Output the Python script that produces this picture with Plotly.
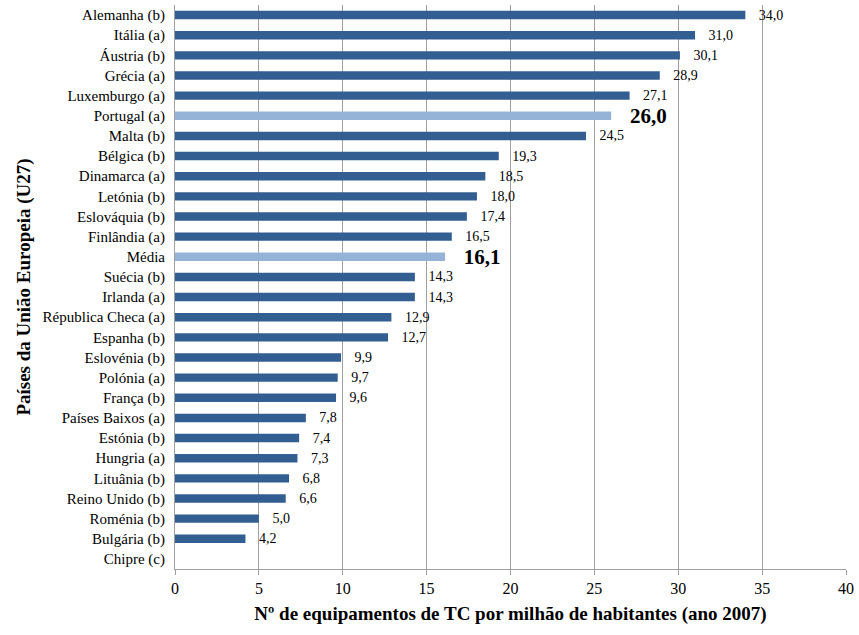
import plotly.graph_objects as go

countries = ["Alemanha (b)", "Itália (a)", "Áustria (b)", "Grécia (a)", "Luxemburgo (a)",
             "Portugal (a)", "Malta (b)", "Bélgica (b)", "Dinamarca (a)", "Letónia (b)",
             "Eslováquia (b)", "Finlândia (a)", "Média", "Suécia (b)", "Irlanda (a)",
             "Républica Checa (a)", "Espanha (b)", "Eslovénia (b)", "Polónia (a)", "França (b)",
             "Países Baixos (a)", "Estónia (b)", "Hungria (a)", "Lituânia (b)", "Reino Unido (b)",
             "Roménia (b)", "Bulgária (b)", "Chipre (c)"]
values = [34.0, 31.0, 30.1, 28.9, 27.1, 26.0, 24.5, 19.3, 18.5, 18.0, 17.4, 16.5, 16.1,
          14.3, 14.3, 12.9, 12.7, 9.9, 9.7, 9.6, 7.8, 7.4, 7.3, 6.8, 6.6, 5.0, 4.2, None]
highlight = ["Portugal (a)", "Média"]

DARK = "#335E91"
LIGHT = "#95B3D7"
FONT = "Liberation Serif, Times New Roman, DejaVu Serif, serif"
PAD = "\u00a0\u00a0\u00a0"

colors = [LIGHT if c in highlight else DARK for c in countries]
texts = []
sizes = []
for c, v in zip(countries, values):
    if v is None:
        texts.append("")
        sizes.append(14)
    elif c in highlight:
        texts.append(PAD + "<b>" + f"{v:.1f}".replace(".", ",") + "</b>")
        sizes.append(21)
    else:
        texts.append(PAD + f"{v:.1f}".replace(".", ","))
        sizes.append(14)

fig = go.Figure(go.Bar(
    x=values, y=countries, orientation="h",
    marker=dict(color=colors, line=dict(width=0)),
    text=texts, textposition="outside", cliponaxis=False, constraintext="none",
    textfont=dict(family=FONT, size=sizes, color="black"),
    width=0.42,
))

fig.update_layout(
    width=859, height=635,
    margin=dict(l=175, r=10, t=5, b=66),
    plot_bgcolor="white", paper_bgcolor="white",
    font=dict(family=FONT, size=15, color="black"),
    showlegend=False,
    xaxis=dict(range=[0, 40], dtick=5, showgrid=True, gridcolor="#A0A0A0", gridwidth=1,
               showline=True, linecolor="#A0A0A0", linewidth=1, ticks="outside",
               tickcolor="#A0A0A0", ticklen=5, zeroline=False,
               tickfont=dict(family=FONT, size=16),
               title=dict(text="<b>Nº de equipamentos de TC por milhão de habitantes (ano 2007)</b>",
                          font=dict(family=FONT, size=19), standoff=10)),
    yaxis=dict(categoryorder="array", categoryarray=countries, autorange="reversed",
               showline=True, linecolor="#A0A0A0", linewidth=1, ticks="", showgrid=False,
               tickfont=dict(family=FONT, size=15), ticklabelstandoff=6,
               title=dict(text="<b>Países da União Europeia (U27)</b>",
                          font=dict(family=FONT, size=19), standoff=6)),
)

fig.write_html("out.html")
